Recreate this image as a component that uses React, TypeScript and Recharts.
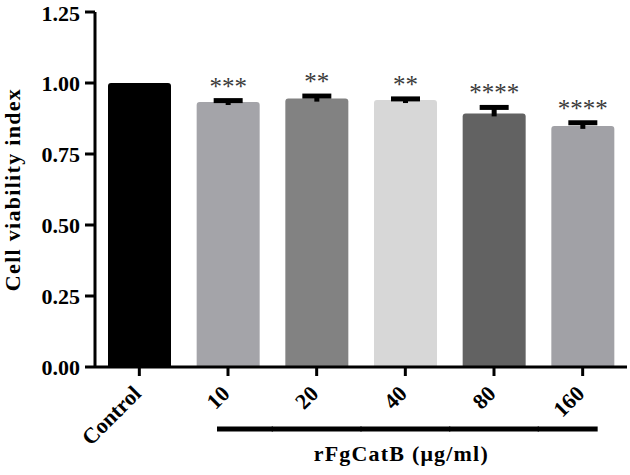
import React from "react";
import { BarChart, Bar, XAxis, YAxis, Cell, LabelList } from "recharts";

const categories = ["Control", "10", "20", "40", "80", "160"];
const viability = [1.0, 0.933, 0.945, 0.94, 0.893, 0.849];
const errors = [0, 0.005, 0.009, 0.004, 0.021, 0.011];
const significance = ["", "***", "**", "**", "****", "****"];
const barColors = ["#000000", "#a4a4a9", "#828282", "#d7d7d7", "#626262", "#a1a1a6"];
const yTicks = [0, 0.25, 0.5, 0.75, 1.0, 1.25];
const yTitle = "Cell viability index";
const xTitle = "rFgCatB (\u03bcg/ml)";

const data = categories.map((c, i) => ({ name: c, value: viability[i], err: errors[i] }));

const FONT = '"Liberation Serif", "Times New Roman", serif';

const XTick = (props: any) => {
  const { x, y, payload, index } = props;
  const px = x + 3;
  const py = y + 17;
  const lineY = y + 51;
  let seg: React.ReactNode = null;
  if (index >= 1) {
    const x1 = index === 1 ? x - 11 : x - 45;
    const x2 = index === categories.length - 1 ? x + 15 : x + 45;
    seg = <line x1={x1} x2={x2} y1={lineY} y2={lineY} stroke="#000" strokeWidth={5} />;
  }
  return (
    <g>
      <text
        x={px}
        y={py}
        textAnchor="end"
        transform={`rotate(-45, ${px}, ${py})`}
        fontFamily={FONT}
        fontWeight="bold"
        fontSize={22}
        fill="#000"
      >
        {payload.value}
      </text>
      {seg}
      {index === 3 ? (
        <text
          x={x - 4}
          y={y + 83}
          textAnchor="middle"
          fontFamily={FONT}
          fontWeight="bold"
          fontSize={22}
          letterSpacing={1.2}
          fill="#000"
        >
          {xTitle}
        </text>
      ) : null}
    </g>
  );
};

const ErrAndStars = (props: any) => {
  const { x, y, width, height, index } = props;
  const v = viability[index];
  const e = errors[index];
  const stars = significance[index];
  if (!e && !stars) return null;
  const k = height / v;
  const cx = x + width / 2;
  const capY = y - e * k;
  return (
    <g>
      <line x1={cx} x2={cx} y1={capY} y2={y + 3} stroke="#000" strokeWidth={5} />
      <line x1={cx - 14.5} x2={cx + 14.5} y1={capY} y2={capY} stroke="#000" strokeWidth={5} />
      <text
        x={cx}
        y={capY - 6}
        textAnchor="middle"
        fontFamily={FONT}
        fontSize={25}
        fill="#3a3a3a"
      >
        {stars}
      </text>
    </g>
  );
};

export default function App() {
  return (
    <div style={{ position: "absolute", left: 0, top: 0, width: 630, height: 475, background: "#fff" }}>
      <BarChart
        width={630}
        height={475}
        data={data}
        margin={{ top: 12, right: 3, bottom: 0, left: 0 }}
        barSize={63}
      >
        <XAxis
          dataKey="name"
          height={108}
          axisLine={{ stroke: "#000", strokeWidth: 3 }}
          tickLine={{ stroke: "#000", strokeWidth: 3 }}
          tickSize={9}
          tickMargin={2}
          interval={0}
          tick={<XTick />}
        />
        <YAxis
          width={95}
          domain={[0, 1.25]}
          ticks={yTicks}
          tickFormatter={(v: number) => v.toFixed(2)}
          axisLine={{ stroke: "#000", strokeWidth: 3 }}
          tickLine={{ stroke: "#000", strokeWidth: 3 }}
          tickSize={10}
          tickMargin={5}
          tick={{ fill: "#000", fontFamily: FONT, fontWeight: "bold", fontSize: 22 }}
          label={{
            value: yTitle,
            angle: -90,
            position: "insideLeft",
            dx: 7,
            style: {
              fontFamily: FONT,
              fontWeight: "bold",
              fontSize: 22,
              letterSpacing: 1.3,
              fill: "#000",
              textAnchor: "middle",
            },
          }}
        />
        <Bar dataKey="value" isAnimationActive={false} radius={[3, 3, 0, 0]}>
          {data.map((d, i) => (
            <Cell key={d.name} fill={barColors[i]} />
          ))}
          <LabelList dataKey="value" content={<ErrAndStars />} />
        </Bar>
      </BarChart>
    </div>
  );
}
